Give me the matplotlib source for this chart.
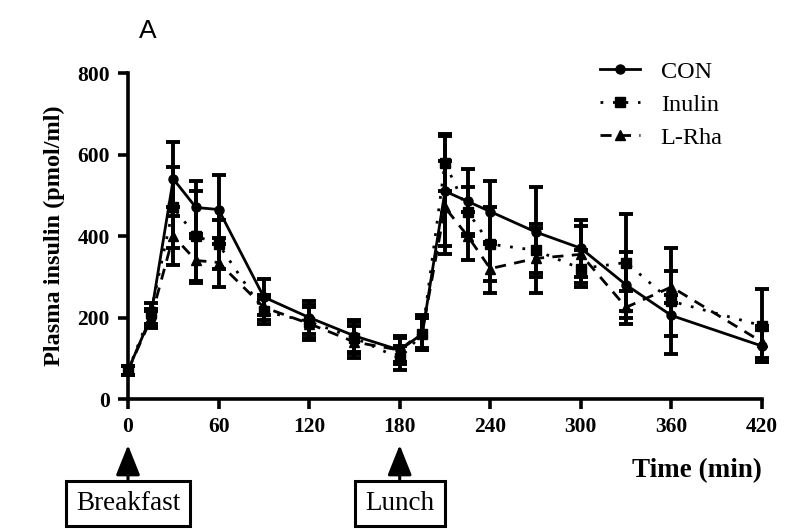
import matplotlib
matplotlib.use("Agg")
import matplotlib.pyplot as plt
from matplotlib.lines import Line2D

# Sampling times (min)
time_min = [0, 15, 30, 45, 60, 90, 120, 150, 180, 195, 210, 225, 240, 270, 300, 330, 360, 420]

# Plasma insulin (pmol/ml), mean and SEM per group
con_mean = [70, 200, 540, 470, 465, 250, 200, 155, 120, 160, 510, 485, 460, 410, 370, 280, 205, 130]
con_sem = [10, 20, 90, 65, 85, 45, 40, 40, 30, 40, 135, 80, 75, 110, 70, 80, 50, 40]

inulin_mean = [70, 210, 470, 400, 380, 215, 190, 150, 100, 160, 580, 460, 380, 365, 320, 335, 240, 180]
inulin_sem = [10, 25, 100, 110, 60, 30, 40, 40, 30, 40, 70, 60, 90, 55, 45, 120, 130, 90]

lrha_mean = [70, 195, 400, 340, 335, 225, 185, 140, 120, 165, 470, 400, 320, 345, 355, 225, 275, 140]
lrha_sem = [10, 20, 70, 55, 60, 30, 40, 40, 35, 40, 115, 60, 60, 85, 70, 40, 40, 40]

series_names = ["CON", "Inulin", "L-Rha"]

x_ticks = [0, 60, 120, 180, 240, 300, 360, 420]
y_ticks = [0, 200, 400, 600, 800]

meal_times = [0, 180]
meal_labels = ["Breakfast", "Lunch"]

serif = ["Liberation Serif", "DejaVu Serif"]

fig = plt.figure(figsize=(8.03, 5.29), dpi=100)
ax = fig.add_axes([0.1594, 0.2457, 0.7895, 0.6163])

styles = [
    dict(ls="-", marker="o", ms=6.5),
    dict(ls=(0, (1, 3.5)), marker="s", ms=7),
    dict(ls=(0, (4, 3)), marker="^", ms=7),
]
groups = [(con_mean, con_sem), (inulin_mean, inulin_sem), (lrha_mean, lrha_sem)]

for (m, e), name, st in zip(groups, series_names, styles):
    ax.errorbar(time_min, m, yerr=e, color="black", lw=2.0, ls=st["ls"],
                marker=st["marker"], ms=st["ms"], mfc="black", mec="black",
                elinewidth=2.8, capsize=5, capthick=2.8, label=name,
                clip_on=False, zorder=3)

ax.set_xlim(0, 420)
ax.set_ylim(0, 800)
ax.set_xticks(x_ticks)
ax.set_yticks(y_ticks)
for s in ["top", "right"]:
    ax.spines[s].set_visible(False)
for s in ["left", "bottom"]:
    ax.spines[s].set_linewidth(2.6)
ax.tick_params(direction="out", length=7, width=2.6, pad=6)
for lab in ax.get_xticklabels() + ax.get_yticklabels():
    lab.set_family(serif)
    lab.set_fontweight("bold")
    lab.set_fontsize(15.5)

ax.set_ylabel("Plasma insulin (pmol/ml)", family=serif, fontweight="bold",
              fontsize=17.5, labelpad=9)
ax.text(1.0, -0.22, "Time (min)", transform=ax.transAxes, ha="right", va="center",
        family=serif, fontweight="bold", fontsize=19.5)

fig.text(148 / 803, 1 - 31 / 529, "A", family=["Liberation Sans", "DejaVu Sans"],
         fontsize=19, ha="center", va="center")

# Legend: handles without error bars
handles = [Line2D([], [], color="black", lw=2.0, ls=st["ls"], marker=st["marker"],
                  ms=st["ms"]) for st in styles]
leg = ax.legend(handles, series_names, loc="upper left", bbox_to_anchor=(0.71, 1.105),
                frameon=False, handlelength=1.65, handletextpad=0.85, labelspacing=0.45,
                prop={"family": serif, "size": 17.5})

# Meal markers below the time axis
trans = ax.get_xaxis_transform()
for t, lab in zip(meal_times, meal_labels):
    ax.annotate(lab, xy=(t, -0.141), xycoords=trans,
                xytext=(t, -0.32), textcoords=trans,
                ha="center", va="center", family=serif, fontsize=19.5,
                bbox=dict(boxstyle="square,pad=0.38", fc="white", ec="black", lw=2.2),
                arrowprops=dict(arrowstyle="-|>,head_length=0.95,head_width=0.38",
                                color="black", lw=2.2, shrinkA=0, shrinkB=0),
                annotation_clip=False)

fig.savefig("out.png", dpi=100)
